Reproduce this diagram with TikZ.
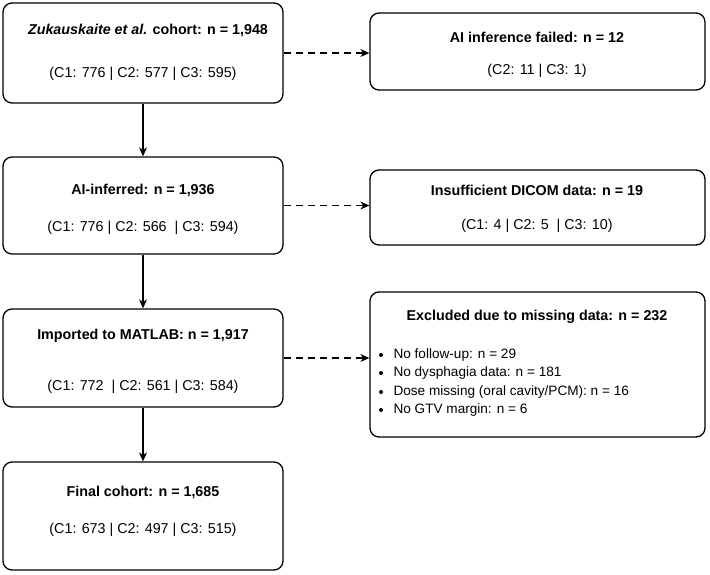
\documentclass[tikz,border=0pt]{standalone}
\usepackage{fontspec}
\setmainfont{Liberation Sans}
\usetikzlibrary{arrows.meta}
\begin{document}
\begin{tikzpicture}[x=1pt,y=-1pt,
 box/.style={draw,line width=1.3pt,rounded corners=9pt,inner sep=0pt},
 t/.style={font=\fontsize{14.3}{16}\selectfont},
 b/.style={font=\fontsize{14.3}{16}\selectfont\bfseries},
 s/.style={font=\fontsize{13.6}{15}\selectfont,anchor=west},
 arr/.style={-{Stealth[length=9pt,width=8pt]},line width=1.1pt},
 darr/.style={arr,dash pattern=on 7pt off 5pt}]
\useasboundingbox (0,0) rectangle (710,574);
\node[box,minimum width=280pt,minimum height=100pt] (L1) at (143,53) {};
\node[box,minimum width=280pt,minimum height=97pt] (L2) at (143,205.5) {};
\node[box,minimum width=280pt,minimum height=98pt] (L3) at (143,358) {};
\node[box,minimum width=280pt,minimum height=108pt] (L4) at (143,516) {};
\node[box,minimum width=335pt,minimum height=77pt] (R1) at (537.5,51.5) {};
\node[box,minimum width=335pt,minimum height=75pt] (R2) at (537.5,207.5) {};
\node[box,minimum width=335pt,minimum height=145pt] (R3) at (537.5,364.5) {};
\node[b] (l1a) at (148,30) {\textit{Zukauskaite et al.} cohort: n = 1,948};
\node[t] (l1b) at (143,74) {(C1: 776 | C2: 577 | C3: 595)};
\node[b] (l2a) at (143,190) {AI-inferred: n = 1,936};
\node[t] (l2b) at (143,228) {(C1: 776 | C2: 566 ~| C3: 594)};
\node[b] (l3a) at (143,336) {Imported to MATLAB: n = 1,917};
\node[t] (l3b) at (143,387) {(C1: 772 ~| C2: 561 | C3: 584)};
\node[b] (l4a) at (143,492) {Final cohort: n = 1,685};
\node[t] (l4b) at (143,530) {(C1: 673 | C2: 497 | C3: 515)};
\node[b] (r1a) at (537,37) {AI inference failed: n = 12};
\node[t] (r1b) at (537,71) {(C2: 11 | C3: 1)};
\node[b] (r2a) at (537,190) {Insufficient DICOM data: n = 19};
\node[t] (r2b) at (537,226) {(C1: 4 | C2: 5 ~| C3: 10)};
\node[b] (r3a) at (537,317) {Excluded due to missing data: n = 232};
\foreach \y/\txt [count=\i] in {355/{No follow-up: n = 29},373/{No dysphagia data: n = 181},392/{Dose missing (oral cavity/PCM): n = 16},410/{No GTV margin: n = 6}}{
 \fill (381,\y) circle (2pt);
 \node[s] (bl\i) at (390,\y) {\txt};
}
\draw[arr] (L1) -- (L2);
\draw[arr] (L2) -- (L3);
\draw[arr] (L3) -- (L4);
\draw[darr] (L1.east) -- (L1.east -| R1.west);
\draw[darr] (L2.east) -- (L2.east -| R2.west);
\draw[darr] (L3.east) -- (L3.east -| R3.west);
\end{tikzpicture}
\end{document}
